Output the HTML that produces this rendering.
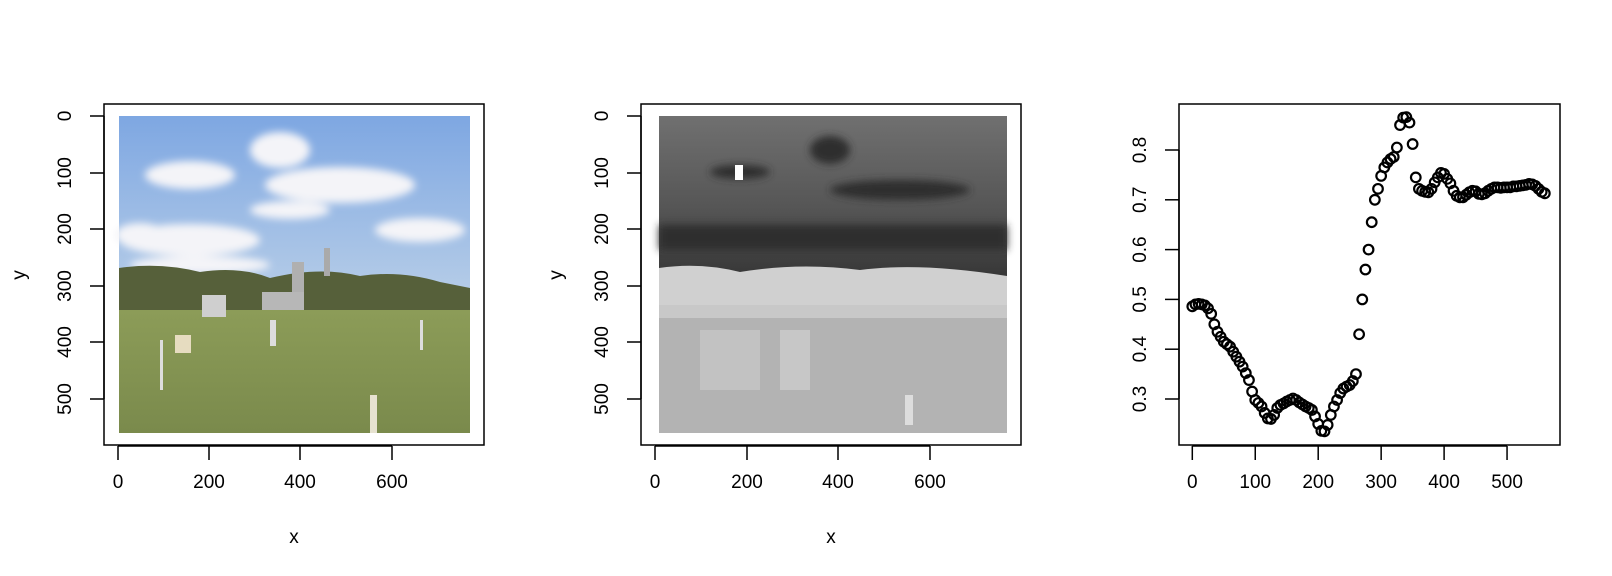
<!DOCTYPE html>
<html><head><meta charset="utf-8"><style>
html,body{margin:0;padding:0;background:#fff;}
svg{display:block;font-family:"Liberation Sans",sans-serif;}
</style></head><body>
<svg id="fig" width="1612" height="576" viewBox="0 0 1612 576">
<defs>
<linearGradient id="sky" x1="0" y1="0" x2="0" y2="1"><stop offset="0" stop-color="#7ea7e2"/><stop offset="1" stop-color="#b9cfe8"/></linearGradient>
<linearGradient id="grass" x1="0" y1="0" x2="0" y2="1"><stop offset="0" stop-color="#8c9c58"/><stop offset="1" stop-color="#7a8a4c"/></linearGradient>
<linearGradient id="gtop" x1="0" y1="0" x2="0" y2="1"><stop offset="0" stop-color="#707070"/><stop offset="0.55" stop-color="#565656"/><stop offset="1" stop-color="#353535"/></linearGradient>
<filter id="blur"><feGaussianBlur stdDeviation="4"/></filter>
</defs>

<g>
<rect x="104" y="104" width="380" height="341" fill="none" stroke="#000" stroke-width="1.5"/>
<g>
<rect x="119" y="116" width="351" height="190" fill="url(#sky)"/>
<g fill="#f4f4f8" filter="url(#blur)">
<ellipse cx="190" cy="175" rx="45" ry="14"/>
<ellipse cx="280" cy="150" rx="30" ry="18"/>
<ellipse cx="340" cy="185" rx="75" ry="18"/>
<ellipse cx="290" cy="210" rx="40" ry="9"/>
<ellipse cx="190" cy="240" rx="70" ry="16"/>
<ellipse cx="140" cy="235" rx="25" ry="12"/>
<ellipse cx="420" cy="230" rx="45" ry="12"/>
<ellipse cx="200" cy="265" rx="70" ry="9"/>
</g>
<path d="M119 268 Q160 262 200 272 Q240 266 270 278 Q320 266 360 276 Q400 270 440 282 L470 288 L470 312 L119 312 Z" fill="#56603a"/>
<rect x="119" y="310" width="351" height="123" fill="url(#grass)"/>
<rect x="202" y="295" width="24" height="22" fill="#cfcfcf"/>
<rect x="262" y="292" width="42" height="18" fill="#b7b7b7"/>
<rect x="292" y="262" width="12" height="30" fill="#b0b0b0"/>
<rect x="324" y="248" width="6" height="28" fill="#aaa"/>
<rect x="270" y="320" width="6" height="26" fill="#ddd"/>
<rect x="370" y="395" width="7" height="38" fill="#e6e2d0"/>
<rect x="160" y="340" width="3" height="50" fill="#ddd"/>
<rect x="420" y="320" width="3" height="30" fill="#ddd"/>
<rect x="175" y="335" width="16" height="18" fill="#e6dcc0"/>
</g>
<g stroke="#000" stroke-width="1.5">
<line x1="118" y1="446" x2="392" y2="446"/>
<line x1="118" y1="446" x2="118" y2="460"/><line x1="209" y1="446" x2="209" y2="460"/><line x1="300" y1="446" x2="300" y2="460"/><line x1="392" y1="446" x2="392" y2="460"/>
</g>
<g font-size="19" text-anchor="middle">
<text x="118" y="488">0</text><text x="209" y="488">200</text><text x="300" y="488">400</text><text x="392" y="488">600</text>
</g>
<g stroke="#000" stroke-width="1.5">
<line x1="104" y1="116" x2="104" y2="399"/>
<line x1="90" y1="116" x2="104" y2="116"/><line x1="90" y1="173" x2="104" y2="173"/><line x1="90" y1="229" x2="104" y2="229"/><line x1="90" y1="286" x2="104" y2="286"/><line x1="90" y1="342" x2="104" y2="342"/><line x1="90" y1="399" x2="104" y2="399"/>
</g>
<g font-size="19" text-anchor="middle">
<text transform="translate(71,116) rotate(-90)">0</text><text transform="translate(71,173) rotate(-90)">100</text><text transform="translate(71,229) rotate(-90)">200</text><text transform="translate(71,286) rotate(-90)">300</text><text transform="translate(71,342) rotate(-90)">400</text><text transform="translate(71,399) rotate(-90)">500</text>
</g>
<text x="294" y="543" font-size="19" text-anchor="middle">x</text>
<text transform="translate(25,275) rotate(-90)" font-size="19" text-anchor="middle">y</text>
</g>

<g>
<rect x="641" y="104" width="380" height="341" fill="none" stroke="#000" stroke-width="1.5"/>
<g>
<rect x="659" y="116" width="348" height="165" fill="url(#gtop)"/>
<g fill="#2e2e2e" filter="url(#blur)">
<ellipse cx="740" cy="172" rx="30" ry="7"/><ellipse cx="830" cy="150" rx="20" ry="14"/><ellipse cx="900" cy="190" rx="70" ry="10"/>
<rect x="659" y="225" width="348" height="25"/>
</g>
<rect x="735" y="165" width="8" height="15" fill="#fff"/>
<path d="M659 268 Q700 262 740 272 Q800 262 860 270 Q920 262 1007 276 L1007 320 L659 320 Z" fill="#d0d0d0"/>
<rect x="659" y="318" width="348" height="115" fill="#b3b3b3"/>
<rect x="659" y="305" width="348" height="13" fill="#c8c8c8"/>
<rect x="700" y="330" width="60" height="60" fill="#c6c6c6" opacity="0.8"/>
<rect x="780" y="330" width="30" height="60" fill="#cccccc" opacity="0.8"/>
<rect x="905" y="395" width="8" height="30" fill="#ddd"/>
</g>
<g stroke="#000" stroke-width="1.5">
<line x1="655" y1="446" x2="930" y2="446"/>
<line x1="655" y1="446" x2="655" y2="460"/><line x1="747" y1="446" x2="747" y2="460"/><line x1="838" y1="446" x2="838" y2="460"/><line x1="930" y1="446" x2="930" y2="460"/>
</g>
<g font-size="19" text-anchor="middle">
<text x="655" y="488">0</text><text x="747" y="488">200</text><text x="838" y="488">400</text><text x="930" y="488">600</text>
</g>
<g stroke="#000" stroke-width="1.5">
<line x1="641" y1="116" x2="641" y2="399"/>
<line x1="627" y1="116" x2="641" y2="116"/><line x1="627" y1="173" x2="641" y2="173"/><line x1="627" y1="229" x2="641" y2="229"/><line x1="627" y1="286" x2="641" y2="286"/><line x1="627" y1="342" x2="641" y2="342"/><line x1="627" y1="399" x2="641" y2="399"/>
</g>
<g font-size="19" text-anchor="middle">
<text transform="translate(608,116) rotate(-90)">0</text><text transform="translate(608,173) rotate(-90)">100</text><text transform="translate(608,229) rotate(-90)">200</text><text transform="translate(608,286) rotate(-90)">300</text><text transform="translate(608,342) rotate(-90)">400</text><text transform="translate(608,399) rotate(-90)">500</text>
</g>
<text x="831" y="543" font-size="19" text-anchor="middle">x</text>
<text transform="translate(562,275) rotate(-90)" font-size="19" text-anchor="middle">y</text>
</g>

<g id="scatter">
<rect x="1179" y="104" width="381" height="341" fill="none" stroke="#000" stroke-width="1.5"/>
<g id="sxaxis" stroke="#000" stroke-width="1.5"></g>
<g id="sxlab" font-size="19" text-anchor="middle"></g>
<g id="syaxis" stroke="#000" stroke-width="1.5"></g>
<g id="sylab" font-size="19" text-anchor="middle"></g>
<g id="spoints" fill="none" stroke="#000" stroke-width="2.2"></g>
</g>
</svg>
<script>
const xTicks = [0, 100, 200, 300, 400, 500];
const yTicks = [0.3, 0.4, 0.5, 0.6, 0.7, 0.8];
const yTickLabels = ["0.3", "0.4", "0.5", "0.6", "0.7", "0.8"];
const xIndex = [0,5,10,15,20,25,30,35,40,45,50,55,60,65,70,75,80,85,90,95,100,105,110,115,120,125,130,135,140,145,150,155,160,165,170,175,180,185,190,195,200,205,210,215,220,225,230,235,240,245,250,255,260,265,270,275,280,285,290,295,300,305,310,315,320,325,330,335,340,345,350,355,360,365,370,375,380,385,390,395,400,405,410,415,420,425,430,435,440,445,450,455,460,465,470,475,480,485,490,495,500,505,510,515,520,525,530,535,540,545,550,555,560];
const yValues = [0.486,0.490,0.491,0.490,0.488,0.482,0.471,0.450,0.435,0.425,0.415,0.410,0.405,0.395,0.385,0.375,0.365,0.352,0.338,0.315,0.298,0.292,0.285,0.272,0.261,0.260,0.268,0.282,0.288,0.291,0.295,0.298,0.301,0.298,0.293,0.289,0.285,0.282,0.278,0.265,0.250,0.236,0.235,0.248,0.268,0.285,0.298,0.312,0.321,0.325,0.328,0.336,0.350,0.430,0.500,0.560,0.600,0.655,0.700,0.722,0.748,0.765,0.775,0.782,0.786,0.805,0.850,0.865,0.866,0.855,0.812,0.745,0.722,0.718,0.716,0.715,0.722,0.735,0.745,0.754,0.752,0.742,0.733,0.718,0.708,0.705,0.705,0.710,0.715,0.718,0.717,0.712,0.711,0.713,0.718,0.722,0.725,0.725,0.724,0.725,0.725,0.725,0.727,0.727,0.728,0.729,0.730,0.732,0.731,0.728,0.722,0.716,0.713];

const NS = "http://www.w3.org/2000/svg";
const sx = v => 1192.3 + v * 0.6295;
const sy = v => 399 - (v - 0.3) * 498;
function mk(tag, attrs, parent) {
  const e = document.createElementNS(NS, tag);
  for (const k in attrs) e.setAttribute(k, attrs[k]);
  parent.appendChild(e);
  return e;
}
const gx = document.getElementById('sxaxis');
const gxl = document.getElementById('sxlab');
const gy = document.getElementById('syaxis');
const gyl = document.getElementById('sylab');
const gp = document.getElementById('spoints');
const xAxisLine = mk('line', {x1: sx(xTicks[0]), y1: 446, x2: sx(xTicks[xTicks.length-1]), y2: 446}, gx);


xTicks.forEach(t => {
  const tk = mk('line', {x1: sx(t), y1: 446, x2: sx(t), y2: 460}, gx);
  
  
  const lb = mk('text', {x: sx(t), y: 488}, gxl);
  lb.textContent = String(t);
  
  
});
const yAxisLine = mk('line', {x1: 1179, y1: sy(yTicks[0]), x2: 1179, y2: sy(yTicks[yTicks.length-1])}, gy);


yTicks.forEach((t, i) => {
  const tk = mk('line', {x1: 1165, y1: sy(t), x2: 1179, y2: sy(t)}, gy);
  
  
  const lb = mk('text', {transform: `translate(1146,${sy(t)}) rotate(-90)`}, gyl);
  lb.textContent = yTickLabels[i];
  
  
});
yValues.forEach((v, i) => {
  const c = mk('circle', {cx: sx(xIndex[i]), cy: sy(v), r: 4.8}, gp);
  
  
});
</script>
</body></html>
